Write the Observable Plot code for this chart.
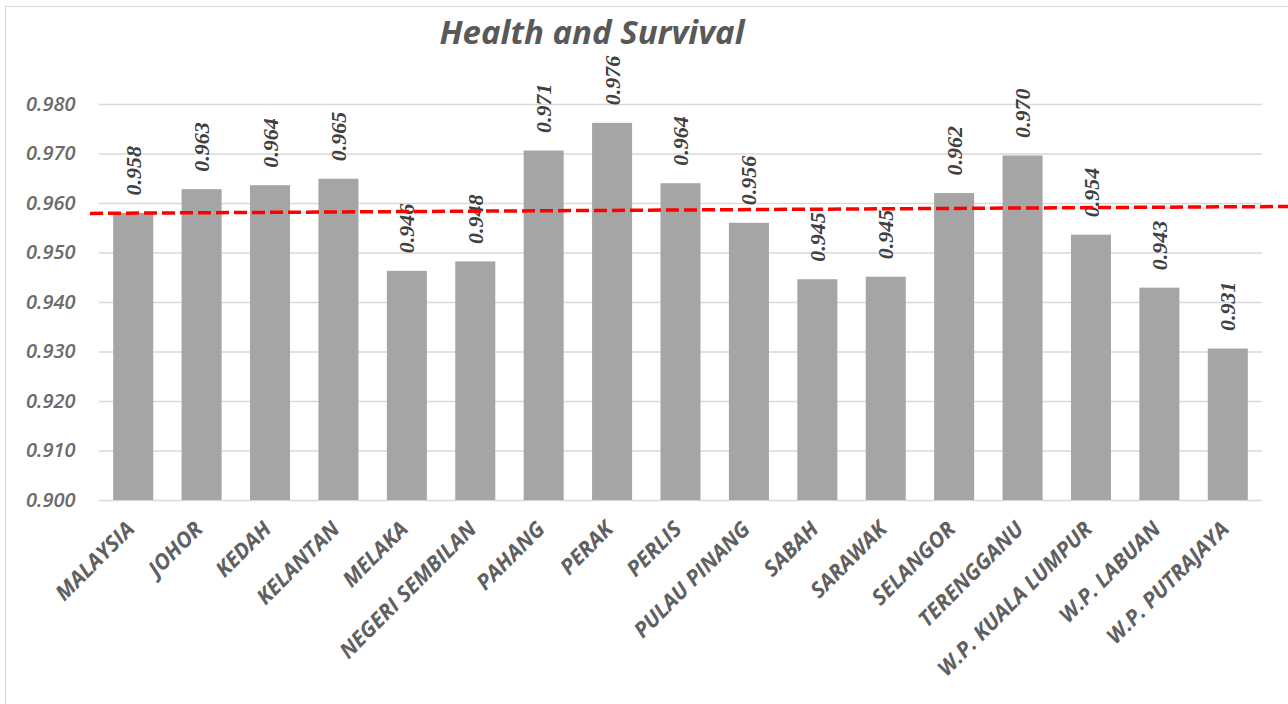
<!DOCTYPE html>
<html><head><meta charset="utf-8">
<script src="https://cdn.jsdelivr.net/npm/d3@7"></script>
<script src="https://cdn.jsdelivr.net/npm/@observablehq/plot@0.6"></script>
<style>
html,body{margin:0;padding:0;background:#fff;overflow:hidden}
#wrap{position:relative;width:1288px;height:704px;overflow:hidden}
#frame{position:absolute;left:5px;top:6px;width:1400px;height:800px;border:1px solid #d9d9d9;box-sizing:border-box}
#title{position:absolute;left:292px;top:16px;width:600px;text-align:center;font-family:"Open Sans";font-style:italic;font-weight:bold;font-size:33px;line-height:32px;color:#595959}
#chart{position:absolute;left:0;top:0}
</style></head><body>
<div id="wrap"><div id="frame"></div><div id="chart"></div><div id="title">Health and Survival</div></div>
<script>
const categories = ["MALAYSIA","JOHOR","KEDAH","KELANTAN","MELAKA","NEGERI SEMBILAN","PAHANG","PERAK","PERLIS","PULAU PINANG","SABAH","SARAWAK","SELANGOR","TERENGGANU","W.P. KUALA LUMPUR","W.P. LABUAN","W.P. PUTRAJAYA"];
const values = [0.9580,0.9628,0.9636,0.9649,0.9463,0.9482,0.9706,0.9762,0.9640,0.9560,0.9446,0.9451,0.9620,0.9696,0.9536,0.9429,0.9306];
const yTicks = [0.900,0.910,0.920,0.930,0.940,0.950,0.960,0.970,0.980];
const refLine = [0.9579, 0.9593];

const data = categories.map((c, i) => ({state: c, value: values[i]}));
const fmt = d3.format(".3f");

function refMark(index, scales, channels, dims) {
  const y = scales.y;
  return d3.create("svg:line")
    .attr("x1", dims.marginLeft - 9).attr("x2", dims.width)
    .attr("y1", y(refLine[0])).attr("y2", y(refLine[1]))
    .attr("stroke", "#ff0000").attr("stroke-width", 3.5)
    .attr("stroke-dasharray", "13,5").node();
}

const chart = Plot.plot({
  width: 1288, height: 704,
  marginLeft: 99, marginRight: 26, marginTop: 104, marginBottom: 204,
  x: {domain: categories, paddingInner: 0.415, paddingOuter: 0.2075, round: false, axis: null},
  y: {domain: [0.9, 0.98], axis: null},
  style: {background: "transparent", overflow: "visible"},
  marks: [
    Plot.ruleY(yTicks, {stroke: "#d9d9d9", strokeWidth: 1.3}),
    Plot.barY(data, {x: "state", y1: 0.9, y2: "value", fill: "#a5a5a5"}),
    Plot.text(data, {x: "state", y: "value", text: d => fmt(d.value), rotate: -90, textAnchor: "start", dy: -18,
      fontFamily: "Liberation Serif", fontStyle: "italic", fontWeight: "bold", fontSize: 22, fill: "#404040"}),
    Plot.text(yTicks, {y: d => d, text: d => fmt(d), frameAnchor: "left", textAnchor: "end", dx: -24,
      fontFamily: "Open Sans", fontStyle: "italic", fontWeight: 600, fontSize: 20, fill: "#6b6b6b"}),
    Plot.text(categories, {x: d => d, text: d => d, frameAnchor: "bottom", rotate: -45, textAnchor: "end", dx: 2, dy: 30,
      fontFamily: "Open Sans", fontStyle: "italic", fontWeight: "bold", fontSize: 21.5, fill: "#606060"}),
    refMark
  ]
});
document.getElementById("chart").appendChild(chart);
</script>
</body></html>
